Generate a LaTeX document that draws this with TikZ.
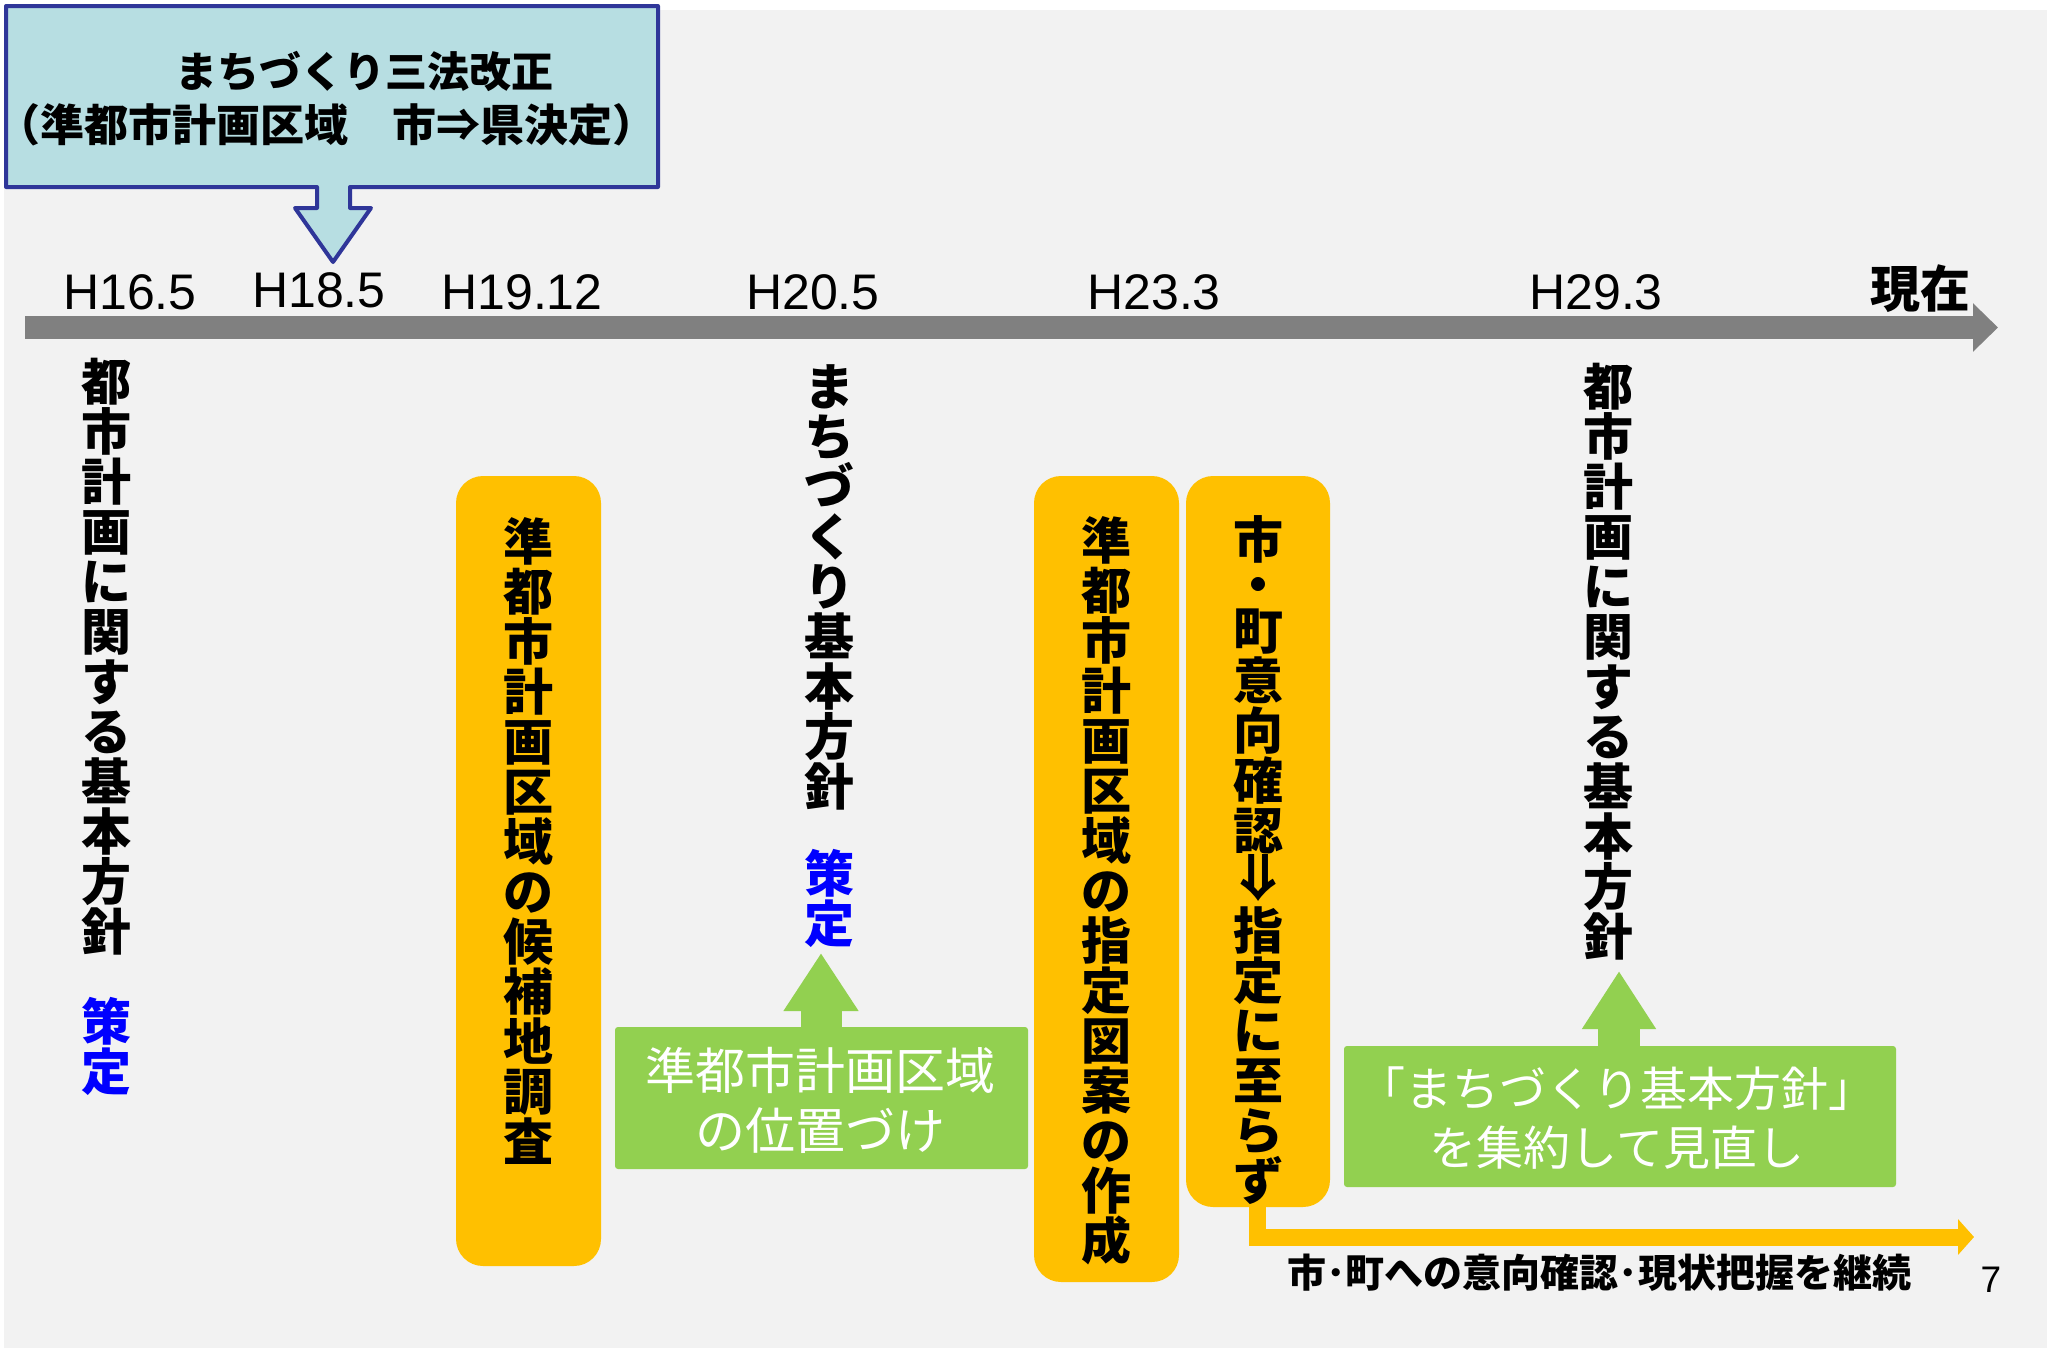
\documentclass[tikz,border=0pt]{standalone}
\usepackage{fontspec}
\usetikzlibrary{arrows.meta}
\setmainfont{Liberation Sans}
\newfontfamily\jp{Noto Sans CJK JP}
\definecolor{bggray}{HTML}{F2F2F2}
\definecolor{tlgray}{HTML}{808080}
\definecolor{calfill}{HTML}{B7DEE2}
\definecolor{calline}{HTML}{2F3699}
\definecolor{orng}{HTML}{FFC000}
\definecolor{grn}{HTML}{92D050}
\definecolor{bluetxt}{HTML}{0000FF}
\newcommand\vtfont{\jp\bfseries\fontsize{50}{50}\selectfont\lineskiplimit=-1000pt\relax}
\newcommand\darr{\raisebox{0pt}[0.83em][0.07em]{\makebox[1em]{\raisebox{0.38em}{\rotatebox[origin=c]{-90}{\raisebox{-0.3em}{⇒}}}}}}
\begin{document}
\begin{tikzpicture}[x=1pt,y=-1pt,
  vt/.style={inner sep=0pt, align=center, font=\vtfont},
  hlab/.style={inner sep=0pt, anchor=base, font=\fontsize{50}{50}\selectfont},
  obox/.style={fill=orng, rounded corners=27pt, draw=none},
  gbox/.style={fill=grn, rounded corners=3pt, draw=none},
  gtext/.style={inner sep=0pt, align=center, text=white},
  garrow/.style={draw=grn, line width=#1},
]
\useasboundingbox (0,0) rectangle (2061,1350);
\fill[bggray] (4,10) rectangle (2047,1348);

% timeline
\coordinate (tl0) at (25,327.5);
\coordinate (tl1) at (1998,327.5);
\draw[tlgray, line width=23pt, -{Triangle[length=25pt,width=47pt]}] (tl0) -- (tl1);

% callout
\filldraw[fill=calfill, draw=calline, line width=4pt, line join=round]
  (6,6) -- (658,6) -- (658,187) -- (350,187) -- (350,208) -- (371,208)
  -- (333,262) -- (295,208) -- (317,208) -- (317,187) -- (6,187) -- cycle;
\node[inner sep=0pt, anchor=base, font=\jp\bfseries\fontsize{42}{42}\selectfont] (cal1) at (364,87) {まちづくり三法改正};
\node[inner sep=0pt, anchor=base, font=\jp\bfseries\fontsize{44}{44}\selectfont] (cal2) at (327,141) {（準都市計画区域　市⇒県決定）};

% timeline labels
\node[hlab] (h1) at (130,309) {H16.5};
\node[hlab] (h2) at (319,307) {H18.5};
\node[hlab] (h3) at (522,309) {H19.12};
\node[hlab] (h4) at (813,309) {H20.5};
\node[hlab] (h5) at (1154,309) {H23.3};
\node[hlab] (h6) at (1596,309) {H29.3};
\node[inner sep=0pt, anchor=base, font=\jp\bfseries\fontsize{50}{50}\selectfont] (now) at (1920,307) {現在};

% orange L arrow
\coordinate (oend) at (1974,1237);
\draw[orng, line width=17pt, line join=miter, -{Triangle[length=16pt,width=35pt]}] (1257,1200) |- (oend);

% orange boxes
\path[obox] (456,476) rectangle (601,1266);
\path[obox] (1034,476) rectangle (1179,1282);
\path[obox] (1186,476) rectangle (1330,1207);

% vertical texts
\node[vt] (v1) at (106,657) {都\\市\\計\\画\\に\\関\\す\\る\\基\\本\\方\\針};
\node[vt, text=bluetxt] (v1s) at (106,1046) {策\\定};
\node[vt] (o1) at (528,841) {準\\都\\市\\計\\画\\区\\域\\の\\候\\補\\地\\調\\査};
\node[vt] (v2) at (829,587) {ま\\ち\\づ\\く\\り\\基\\本\\方\\針};
\node[vt, text=bluetxt] (v2s) at (829,898) {策\\定};
\node[vt] (o2) at (1106,891) {準\\都\\市\\計\\画\\区\\域\\の\\指\\定\\図\\案\\の\\作\\成};
\node[vt] (o3) at (1258,860) {市\\[-5pt]・\\[-4pt]町\\意\\向\\確\\認\\\darr\\指\\定\\に\\至\\ら\\ず};
\node[vt] (v3) at (1608,662) {都\\市\\計\\画\\に\\関\\す\\る\\基\\本\\方\\針};

% green boxes and arrows
\node[gbox, minimum width=413pt, minimum height=142pt, inner sep=0pt] (g1) at (821.5,1098) {};
\coordinate (g1tip) at (821,953);
\draw[garrow=41pt, -{Triangle[length=58pt,width=71pt]}] ([xshift=-0.5pt]g1.north) -- (g1tip);
\node[gtext, font=\jp\fontsize{50}{60}\selectfont] (g1t) at (820,1100) {準都市計画区域\\の位置づけ};

\node[gbox, minimum width=552pt, minimum height=141pt, inner sep=0pt] (g2) at (1620,1116.5) {};
\coordinate (g2tip) at (1619,971);
\draw[garrow=42pt, -{Triangle[length=58pt,width=70pt]}] ([xshift=-1pt]g2.north) -- (g2tip);
\node[gtext, font=\jp\fontsize{47}{59}\selectfont] (g2t) at (1617,1118) {「まちづくり基本方針」\\を集約して見直し};

% bottom texts
\node[inner sep=0pt, anchor=base, font=\jp\bfseries\fontsize{39}{39}\selectfont] (cont) at (1599,1287) {市･町への意向確認･現状把握を継続};
\node[inner sep=0pt, anchor=base, font=\fontsize{37}{37}\selectfont] (pg) at (1991,1292) {7};
\end{tikzpicture}
\end{document}
